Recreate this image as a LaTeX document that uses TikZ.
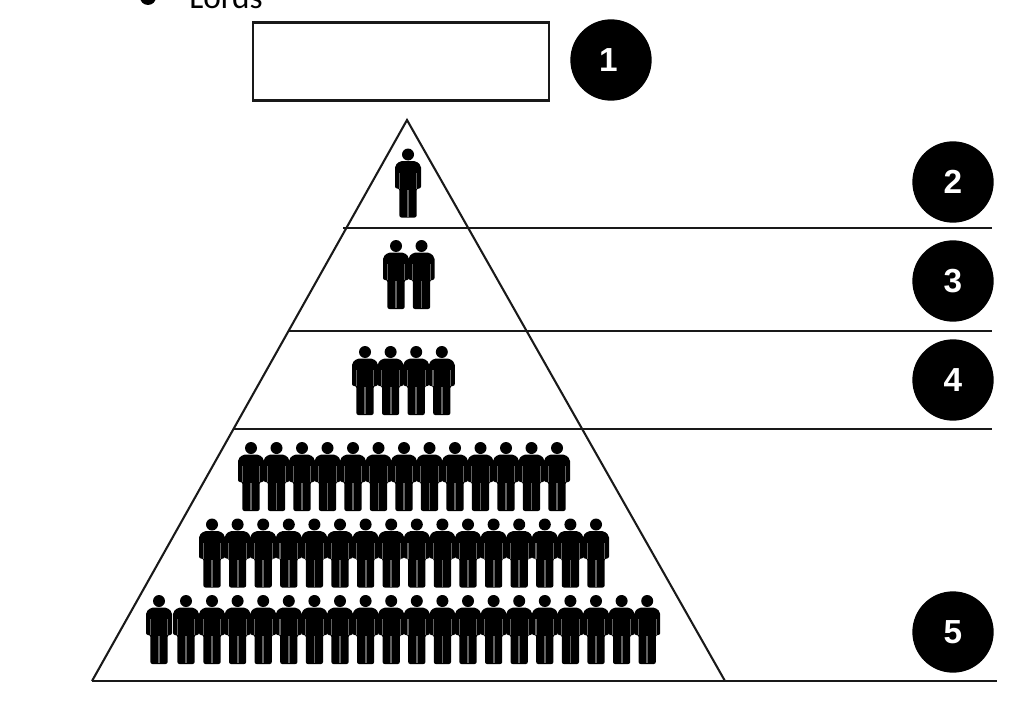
\documentclass[tikz,border=0pt]{standalone}
\usepackage{fontspec}
\setmainfont{Carlito}
\newfontfamily\numfont{Liberation Sans}
\tikzset{
  x=0.75pt,y=-0.75pt,
  rule/.style={draw=black!90,line width=1.55pt},
  badge/.style={circle,fill=black,text=white,minimum size=61pt,inner sep=0pt,font=\numfont\bfseries\fontsize{25}{25}\selectfont},
  person/.pic={
    \fill[black] (0,6) circle (6);
    \fill[black,rounded corners=1.5pt] (-13,40) -- (-13,17) -- (-8,12.5) -- (8,12.5) -- (13,17) -- (13,40) -- (8.6,40) -- (8.6,69) -- (-8.6,69) -- (-8.6,40) -- cycle;
    \fill[black!62] (-0.9,41) rectangle (0.9,68);
    \fill[black!62] (-9.4,24) rectangle (-8.3,40);
    \fill[black!62] (8.3,24) rectangle (9.4,40);
  }
}
\begin{document}
\begin{tikzpicture}
\useasboundingbox (0,0) rectangle (1032,724);
\fill[white] (0,0) rectangle (1032,724);
% cut-off text
\fill[black] (148,-3) circle (8);
\node[anchor=base west,inner sep=0pt,font=\fontsize{25}{25}\selectfont] (lords) at (189,9) {Lords};
% box
\node[rule,fill=white,minimum width=222pt,minimum height=58.5pt,inner sep=0pt] (box) at (401,61.5) {};
% coordinates
\coordinate (apex) at (407,120);
\coordinate (bl) at (92,681);
\coordinate (br) at (725,681);
\coordinate (l2a) at (343,228);\coordinate (l2b) at (992,228);
\coordinate (l3a) at (288,331);\coordinate (l3b) at (992,331);
\coordinate (l4a) at (234,429);\coordinate (l4b) at (992,429);
\coordinate (l5b) at (997,681);
\draw[rule,line join=miter] (bl) -- (apex) -- (br);
\draw[rule] (bl) -- (l5b);
\draw[rule] (l2a) -- (l2b);
\draw[rule] (l3a) -- (l3b);
\draw[rule] (l4a) -- (l4b);
% badges
\node[badge] (n1) at (611,60) {\hspace{-4pt}1};
\node[badge] (n2) at (953,182) {2};
\node[badge] (n3) at (953,281) {3};
\node[badge] (n4) at (953,380) {4};
\node[badge] (n5) at (953,632) {5};
% people
\pic at (408,148.5) {person};
\foreach \i in {0,1} \pic at (396+25.5*\i,240) {person};
\foreach \i in {0,...,3} \pic at (365+25.6*\i,346) {person};
\foreach \i in {0,...,12} \pic at (251+25.5*\i,442) {person};
\foreach \i in {0,...,15} \pic at (212+25.6*\i,518.5) {person};
\pic at (159,595) {person};
\pic at (186,595) {person};
\foreach \i in {0,...,17} \pic at (212+25.6*\i,595) {person};
\end{tikzpicture}
\end{document}
